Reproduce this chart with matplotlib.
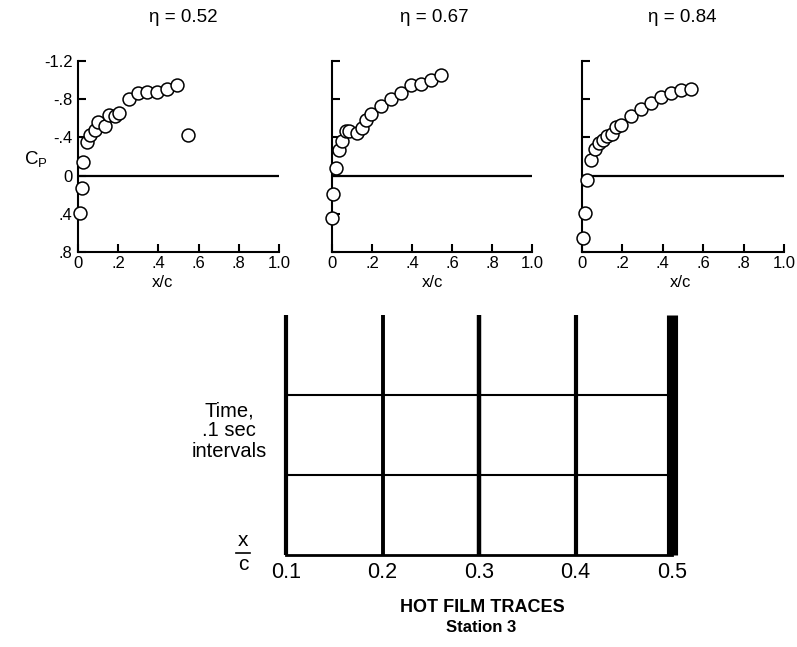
import matplotlib
matplotlib.use("Agg")
import matplotlib.pyplot as plt
from matplotlib.lines import Line2D

plt.rcParams['font.family'] = ['Liberation Sans', 'DejaVu Sans']

W, H = 797, 647

# ---- data ----
eta_labels = ["\u03b7 = 0.52", "\u03b7 = 0.67", "\u03b7 = 0.84"]

xc_052 = [0.008, 0.020, 0.027, 0.045, 0.061, 0.083, 0.098, 0.133, 0.153, 0.186,
          0.206, 0.252, 0.299, 0.344, 0.394, 0.445, 0.493, 0.548]
cp_052 = [0.39, 0.13, -0.14, -0.35, -0.42, -0.48, -0.56, -0.52, -0.63, -0.62,
          -0.66, -0.80, -0.87, -0.88, -0.88, -0.91, -0.95, -0.42]

xc_067 = [0.002, 0.007, 0.020, 0.037, 0.052, 0.072, 0.087, 0.125, 0.148, 0.171,
          0.193, 0.245, 0.293, 0.343, 0.396, 0.446, 0.496, 0.547]
cp_067 = [0.44, 0.19, -0.08, -0.27, -0.36, -0.47, -0.47, -0.45, -0.50, -0.58,
          -0.65, -0.73, -0.80, -0.86, -0.95, -0.96, -1.00, -1.05]

xc_084 = [0.007, 0.013, 0.025, 0.043, 0.065, 0.084, 0.104, 0.126, 0.147, 0.169,
          0.194, 0.245, 0.291, 0.341, 0.389, 0.439, 0.488, 0.541]
cp_084 = [0.65, 0.39, 0.05, -0.16, -0.28, -0.34, -0.37, -0.41, -0.44, -0.51,
          -0.53, -0.62, -0.70, -0.76, -0.82, -0.87, -0.90, -0.91]

xc_ticks = [0, 0.2, 0.4, 0.6, 0.8, 1.0]
xc_ticklabels = ["0", ".2", ".4", ".6", ".8", "1.0"]
cp_ticks = [-1.2, -0.8, -0.4, 0, 0.4, 0.8]
cp_ticklabels = ["-1.2", "-.8", "-.4", "0", ".4", ".8"]

# hot film traces
trace_xc = [0.1, 0.2, 0.3, 0.4, 0.5]
trace_labels = ["0.1", "0.2", "0.3", "0.4", "0.5"]
trace_width = [3.0, 2.8, 3.2, 3.0, 8.0]   # visual trace thickness (turbulent at 0.5)
trace_duration = 0.3                      # seconds shown
time_marks = [0.0, 0.1, 0.2]              # .1 sec interval lines

fig = plt.figure(figsize=(W / 100, H / 100), dpi=100)

def px_axes(l, r, t, b):
    return fig.add_axes([l / W, 1 - b / H, (r - l) / W, (b - t) / H])

panels = [
    (78, 279, xc_052, cp_052, 183, 163),
    (332, 532, xc_067, cp_067, 434, 432),
    (582, 784, xc_084, cp_084, 682, 681),
]

for i, (l, r, xs, ys, tx, lx) in enumerate(panels):
    ax = px_axes(l, r, 61, 252)
    ax.set_xlim(0, 1.0)
    ax.set_ylim(0.8, -1.2)
    for s in ["top", "right"]:
        ax.spines[s].set_visible(False)
    for s in ["left", "bottom"]:
        ax.spines[s].set_linewidth(1.5)
    ax.axhline(0, color="black", lw=1.6, xmin=0, xmax=1)
    ax.plot(xs, ys, "o", ms=9.3, mfc="white", mec="black", mew=1.1,
            clip_on=False, zorder=3)
    ax.set_xticks(xc_ticks)
    ax.set_xticklabels(xc_ticklabels, fontsize=12)
    ax.set_yticks(cp_ticks)
    if i == 0:
        ax.set_yticklabels(cp_ticklabels, fontsize=12)
    else:
        ax.set_yticklabels([])
    ax.tick_params(direction="in", length=6, width=1.5, pad=3)
    ax.tick_params(axis="y", pad=4)
    fig.text(tx / W, 1 - 17 / H, eta_labels[i], ha="center", va="center", fontsize=13.5)
    fig.text(lx / W, 1 - 283 / H, "x/c", ha="center", va="center", fontsize=12)

fig.text(36 / W, 1 - 160 / H, "C$_\\mathregular{P}$", ha="center", va="center", fontsize=13.5)

# ---- hot film traces ----
axb = px_axes(286, 672, 315, 555)
axb.set_xlim(0.1, 0.5)
axb.set_ylim(0, trace_duration)
for s in axb.spines.values():
    s.set_visible(False)
for t in time_marks:
    axb.plot([trace_xc[0], trace_xc[-1]], [t, t], color="black",
             lw=2.0 if t == 0 else 1.5, clip_on=False)
for x, w in zip(trace_xc, trace_width):
    axb.plot([x, x], [0, trace_duration], color="black", lw=w,
             solid_capstyle="butt", clip_on=False)
axb.set_yticks([])
axb.set_xticks(trace_xc)
axb.set_xticklabels(trace_labels, fontsize=15.5)
axb.tick_params(axis="x", length=0, pad=5)

fig.text(229 / W, 1 - 431 / H, "Time,\n.1 sec\nintervals", ha="center",
         va="center", fontsize=14.5, linespacing=1.08)
fig.text(243 / W, 1 - 540 / H, "x", ha="center", va="center", fontsize=15)
fig.text(243 / W, 1 - 565 / H, "c", ha="center", va="center", fontsize=15)
fig.add_artist(Line2D([236 / W, 250 / W], [1 - 553 / H, 1 - 553 / H],
                      color="black", lw=1.2))

fig.text(482 / W, 1 - 607 / H, "HOT FILM TRACES", ha="center", va="center",
         fontsize=13, fontweight="bold")
fig.text(481 / W, 1 - 628 / H, "Station 3", ha="center", va="center",
         fontsize=12, fontweight="bold")

fig.savefig("out.png", dpi=100)
